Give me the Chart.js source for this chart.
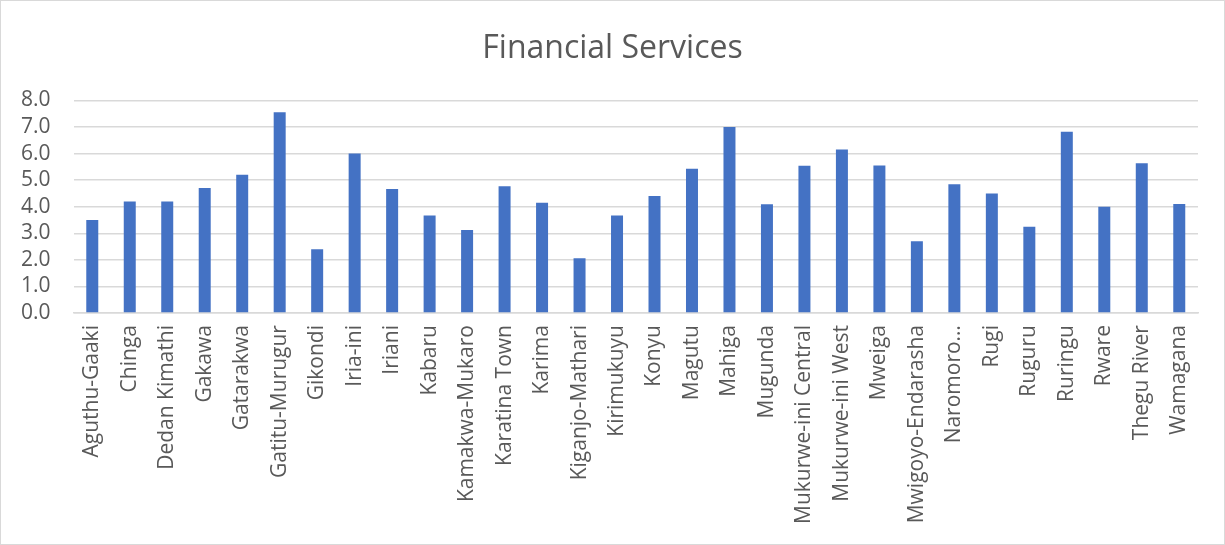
<!DOCTYPE html>
<html>
<head>
<meta charset="utf-8">
<script src="https://cdn.jsdelivr.net/npm/chart.js@4/dist/chart.umd.min.js"></script>
<style>
  html, body { margin: 0; padding: 0; background: #ffffff; }
  #wrap { position: relative; width: 1225px; height: 545px; box-sizing: border-box; border: 1px solid #d9d9d9; }
  canvas { display: block; }
</style>
</head>
<body>
<div id="wrap"><canvas id="c" width="1223" height="543"></canvas></div>
<script>
const chartTitle = "Financial Services";
const categories = [
  "Aguthu-Gaaki", "Chinga", "Dedan Kimathi", "Gakawa", "Gatarakwa", "Gatitu-Murugur",
  "Gikondi", "Iria-ini", "Iriani", "Kabaru", "Kamakwa-Mukaro", "Karatina Town",
  "Karima", "Kiganjo-Mathari", "Kirimukuyu", "Konyu", "Magutu", "Mahiga",
  "Mugunda", "Mukurwe-ini Central", "Mukurwe-ini West", "Mweiga", "Mwigoyo-Endarasha", "Naromoro…",
  "Rugi", "Ruguru", "Ruringu", "Rware", "Thegu River", "Wamagana"
];
const values = [
  3.5, 4.2, 4.2, 4.7, 5.2, 7.55,
  2.4, 6.0, 4.67, 3.67, 3.12, 4.77,
  4.15, 2.06, 3.67, 4.4, 5.43, 7.0,
  4.09, 5.54, 6.15, 5.55, 2.7, 4.85,
  4.5, 3.25, 6.82, 4.0, 5.64, 4.1
];
const yTicks = [0, 1, 2, 3, 4, 5, 6, 7, 8];

new Chart(document.getElementById('c'), {
  type: 'bar',
  data: {
    labels: categories,
    datasets: [{
      label: chartTitle,
      data: values,
      backgroundColor: '#4472C4',
      borderWidth: 0,
      categoryPercentage: 1.0,
      barPercentage: 0.32,
      yAxisID: 'y'
    }]
  },
  options: {
    responsive: false,
    animation: false,
    layout: { padding: { left: -3, right: -3, top: 29, bottom: 8 } },
    plugins: {
      legend: { display: false },
      tooltip: { enabled: false },
      title: {
        display: true,
        text: chartTitle,
        color: '#595959',
        font: { family: 'Open Sans', size: 32, weight: 'normal' },
        padding: { top: 0, bottom: 32 }
      }
    },
    scales: {
      x: {
        grid: { display: false, drawTicks: false },
        border: { display: true, color: '#d9d9d9', width: 1.5 },
        ticks: {
          color: '#595959',
          font: { family: 'Open Sans', size: 21 },
          maxRotation: 90, minRotation: 90,
          autoSkip: false,
          padding: 12
        }
      },
      y: {
        min: 0, max: 8,
        afterBuildTicks: (axis) => { axis.ticks = yTicks.map(v => ({ value: v })); },
        grid: { color: '#d9d9d9', lineWidth: 1.5, drawTicks: false },
        border: { display: false },
        ticks: {
          color: '#595959',
          font: { family: 'Open Sans', size: 21 },
          padding: 23,
          autoSkip: false,
          callback: (v) => Number(v).toFixed(1)
        }
      },
      yRight: {
        position: 'right',
        display: true,
        grid: { display: false, drawTicks: false },
        border: { display: false },
        ticks: { display: false },
        afterFit: (s) => { s.width = 29; }
      }
    }
  }
});
</script>
</body>
</html>
